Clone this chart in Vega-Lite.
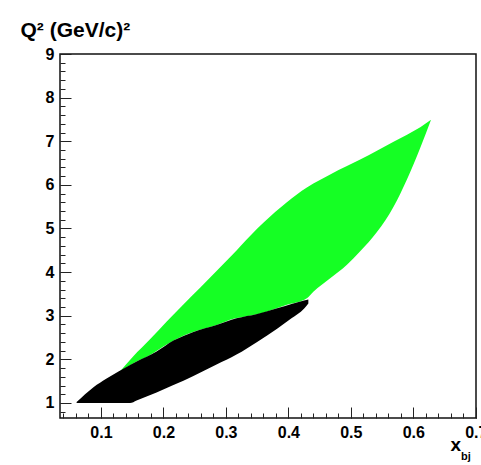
{
  "$schema": "https://vega.github.io/schema/vega-lite/v6.json",
  "width": 416,
  "height": 364,
  "autosize": "none",
  "padding": {"left": 60, "top": 54, "right": 5, "bottom": 47},
  "background": "white",
  "config": {
    "view": {"stroke": "#111111", "strokeWidth": 1.5},
    "axis": {
      "domain": false,
      "grid": false,
      "tickColor": "#222222",
      "tickWidth": 1,
      "labelFont": "Liberation Sans",
      "labelFontWeight": "bold",
      "labelFontSize": 16,
      "labelColor": "#000000",
      "titleFont": "Liberation Sans",
      "titleFontWeight": "bold",
      "titleColor": "#000000",
      "zindex": 1
    }
  },
  "datasets": {
    "green": [
      {"x": 0.1304, "lo": 1.72, "hi": 1.72},
      {"x": 0.1518, "lo": 1.91, "hi": 2.07},
      {"x": 0.1785, "lo": 2.10, "hi": 2.46},
      {"x": 0.2053, "lo": 2.34, "hi": 2.87},
      {"x": 0.2319, "lo": 2.54, "hi": 3.26},
      {"x": 0.2587, "lo": 2.68, "hi": 3.64},
      {"x": 0.2854, "lo": 2.79, "hi": 4.03},
      {"x": 0.312, "lo": 2.93, "hi": 4.42},
      {"x": 0.3228, "lo": 2.96, "hi": 4.59},
      {"x": 0.36, "lo": 3.07, "hi": 5.13},
      {"x": 0.3976, "lo": 3.25, "hi": 5.60},
      {"x": 0.4296, "lo": 3.40, "hi": 5.94},
      {"x": 0.44, "lo": 3.55, "hi": 6.03},
      {"x": 0.467, "lo": 3.86, "hi": 6.24},
      {"x": 0.4938, "lo": 4.17, "hi": 6.43},
      {"x": 0.515, "lo": 4.48, "hi": 6.58},
      {"x": 0.5418, "lo": 4.92, "hi": 6.78},
      {"x": 0.5684, "lo": 5.50, "hi": 6.99},
      {"x": 0.59, "lo": 6.13, "hi": 7.15},
      {"x": 0.6112, "lo": 6.85, "hi": 7.32},
      {"x": 0.6284, "lo": 7.49, "hi": 7.49}
    ],
    "black": [
      {"x": 0.061, "lo": 1.0, "hi": 1.02},
      {"x": 0.088, "lo": 1.0, "hi": 1.36},
      {"x": 0.109, "lo": 1.0, "hi": 1.56},
      {"x": 0.128, "lo": 1.0, "hi": 1.72},
      {"x": 0.1465, "lo": 1.0, "hi": 1.87},
      {"x": 0.157, "lo": 1.06, "hi": 1.95},
      {"x": 0.189, "lo": 1.24, "hi": 2.18},
      {"x": 0.216, "lo": 1.41, "hi": 2.43},
      {"x": 0.248, "lo": 1.62, "hi": 2.63},
      {"x": 0.285, "lo": 1.88, "hi": 2.79},
      {"x": 0.317, "lo": 2.11, "hi": 2.94},
      {"x": 0.35, "lo": 2.40, "hi": 3.04},
      {"x": 0.382, "lo": 2.70, "hi": 3.17},
      {"x": 0.405, "lo": 2.94, "hi": 3.27},
      {"x": 0.425, "lo": 3.16, "hi": 3.35},
      {"x": 0.432, "lo": 3.28, "hi": 3.37}
    ]
  },
  "resolve": {"axis": {"x": "independent", "y": "independent"}},
  "layer": [
    {
      "data": {"name": "green"},
      "mark": {"type": "area", "color": "#15ff24", "opacity": 1, "interpolate": "monotone"},
      "encoding": {
        "x": {
          "field": "x", "type": "quantitative",
          "scale": {"domain": [0.0344, 0.7004], "nice": false, "zero": false},
          "axis": {
            "orient": "bottom",
            "values": [0.04,0.06,0.08,0.1,0.12,0.14,0.16,0.18,0.2,0.22,0.24,0.26,0.28,0.3,0.32,0.34,0.36,0.38,0.4,0.42,0.44,0.46,0.48,0.5,0.52,0.54,0.56,0.58,0.6,0.62,0.64,0.66,0.68,0.7],
            "labels": false,
            "tickSize": -5,
            "title": "bj",
            "titleFontSize": 11,
            "titleAlign": "left",
            "titleBaseline": "alphabetic",
            "titleX": 400.5,
            "titleY": 41
          }
        },
        "y": {
          "field": "hi", "type": "quantitative",
          "scale": {"domain": [0.656, 9], "nice": false, "zero": false},
          "axis": {
            "orient": "left",
            "values": [0.8,1,1.2,1.4,1.6,1.8,2,2.2,2.4,2.6,2.8,3,3.2,3.4,3.6,3.8,4,4.2,4.4,4.6,4.8,5,5.2,5.4,5.6,5.8,6,6.2,6.4,6.6,6.8,7,7.2,7.4,7.6,7.8,8,8.2,8.4,8.6,8.8],
            "labels": false,
            "tickSize": -5,
            "title": null
          }
        },
        "y2": {"field": "lo"}
      }
    },
    {
      "data": {"name": "black"},
      "mark": {"type": "area", "color": "#000000", "opacity": 1, "interpolate": "monotone"},
      "encoding": {
        "x": {
          "field": "x", "type": "quantitative",
          "scale": {"domain": [0.0344, 0.7004], "nice": false, "zero": false},
          "axis": {
            "orient": "bottom",
            "values": [0.1,0.2,0.3,0.4,0.5,0.6,0.7],
            "format": ".1f",
            "tickSize": -11,
            "labelPadding": 17,
            "labelBaseline": "top",
            "labelFlush": false,
            "title": "x",
            "titleFontSize": 19,
            "titleAlign": "left",
            "titleBaseline": "alphabetic",
            "titleX": 390,
            "titleY": 32
          }
        },
        "y": {
          "field": "hi", "type": "quantitative",
          "scale": {"domain": [0.656, 9], "nice": false, "zero": false},
          "axis": {
            "orient": "left",
            "values": [1,2,3,4,5,6,7,8,9],
            "format": "d",
            "tickSize": -11,
            "labelPadding": 17,
            "labelFlush": false,
            "title": "Q² (GeV/c)²",
            "titleFontSize": 21,
            "titleAngle": 0,
            "titleAlign": "left",
            "titleBaseline": "alphabetic",
            "titleX": -40,
            "titleY": -18
          }
        },
        "y2": {"field": "lo"}
      }
    }
  ]
}
